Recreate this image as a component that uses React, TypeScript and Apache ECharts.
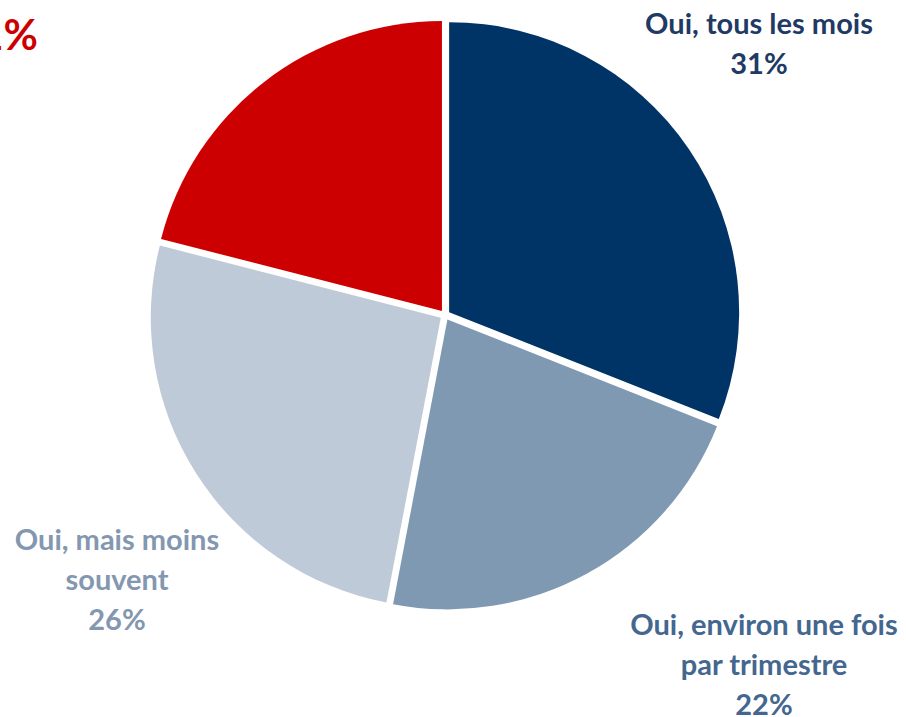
import React, { useEffect, useRef } from "react";
import * as echarts from "echarts";

const categories = [
  "Oui, tous les mois",
  "Oui, environ une fois\npar trimestre",
  "Oui, mais moins\nsouvent",
  "Non",
];
const values = [31, 22, 26, 21];
const sliceColors = ["#003366", "#7f99b2", "#bfcad8", "#cc0000"];
const labelColors = ["#1f3a64", "#44678f", "#8497b0", "#cc0000"];

export default function App() {
  const ref = useRef<HTMLDivElement>(null);
  useEffect(() => {
    document.body.style.margin = "0";
    const chart = echarts.init(ref.current!, null, { renderer: "svg" });
    const labelText = (i: number) => categories[i] + "\n" + values[i] + "%";
    const baseStyle = {
      fontFamily: "Lato",
      fontWeight: "bold",
      fontSize: 29,
      lineHeight: 40,
      align: "center",
      verticalAlign: "middle",
    };
    chart.setOption({
      animation: false,
      backgroundColor: "#ffffff",
      graphic: [
        {
          type: "text",
          x: 759,
          y: 42,
          style: { ...baseStyle, text: labelText(0), fill: labelColors[0] },
        },
        {
          type: "text",
          x: 764,
          y: 663,
          style: { ...baseStyle, text: labelText(1), fill: labelColors[1] },
        },
        {
          type: "text",
          x: 117,
          y: 578,
          style: { ...baseStyle, text: labelText(2), fill: labelColors[2] },
        },
        {
          type: "text",
          x: 38,
          y: 34,
          style: {
            fontFamily: "Lato",
            fontWeight: "bold",
            fontSize: 42,
            align: "right",
            verticalAlign: "middle",
            text: values[3] + "%",
            fill: labelColors[3],
          },
        },
      ],
      series: [
        {
          type: "pie",
          center: [445, 315],
          radius: 290,
          startAngle: 90,
          clockwise: true,
          selectedMode: "multiple",
          selectedOffset: 5,
          emphasis: { disabled: true },
          label: { show: false },
          labelLine: { show: false },
          data: categories.map((c, i) => ({
            name: c,
            value: values[i],
            selected: true,
            itemStyle: { color: sliceColors[i] },
          })),
        },
      ],
    });
    return () => chart.dispose();
  }, []);
  return (
    <div
      ref={ref}
      style={{ position: "absolute", left: 0, top: 0, width: 906, height: 717 }}
    />
  );
}
